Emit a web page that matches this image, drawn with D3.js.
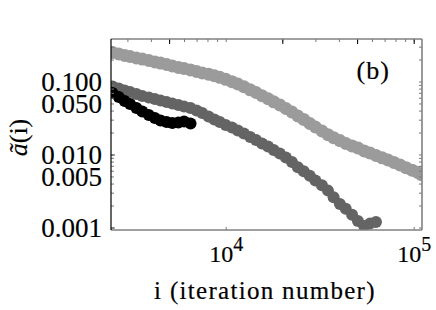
<!DOCTYPE html>
<html><head><meta charset="utf-8">
<script src="https://cdn.jsdelivr.net/npm/d3@7"></script>
<style>body{margin:0;background:#fff}svg{display:block}text{stroke:#000;stroke-width:0.18px}</style>
</head><body><svg id="c" width="436" height="310"></svg>
<script>
// ---- data ----
const iterations = [2350, 2500, 2700, 2900, 3100, 3350, 3600, 3900, 4200, 4500, 4850, 5200, 5600, 6000, 6500, 7000, 7500, 8100, 8700, 9300, 10000, 10800, 11600, 12500, 13500, 14500, 15600, 16800, 18000, 19400, 20900, 22500, 24200, 26000, 28000, 30000, 32500, 35000, 37500, 40500, 43500, 47000, 50500, 54500, 58500, 63000, 68000, 73000, 78500, 84500, 91000, 98000, 105000, 110000];
const lightSeries = [0.258, 0.250, 0.238, 0.227, 0.220, 0.210, 0.203, 0.194, 0.185, 0.179, 0.171, 0.163, 0.156, 0.151, 0.144, 0.137, 0.131, 0.126, 0.120, 0.114, 0.107, 0.0995, 0.0924, 0.0848, 0.0770, 0.0707, 0.0638, 0.0580, 0.0527, 0.0477, 0.0427, 0.0382, 0.0337, 0.0302, 0.0266, 0.0238, 0.0210, 0.0187, 0.0170, 0.0155, 0.0142, 0.0131, 0.0123, 0.0112, 0.0105, 0.0097, 0.0090, 0.0084, 0.0078, 0.0072, 0.0066, 0.0061, 0.0057, 0.0053];
const darkSeries = [0.0882, 0.0854, 0.0802, 0.0753, 0.0718, 0.0674, 0.0633, 0.0604, 0.0576, 0.0549, 0.0524, 0.0499, 0.0477, 0.0455, 0.0434, 0.0401, 0.0370, 0.0332, 0.0302, 0.0279, 0.0254, 0.0234, 0.0213, 0.0194, 0.0174, 0.0158, 0.0142, 0.0129, 0.0115, 0.0103, 0.0091, 0.0079, 0.0067, 0.0059, 0.0051, 0.0044, 0.0038, 0.0032, 0.0026, 0.0021, 0.0018, 0.0015, 0.00123, 0.00105, 0.00113, 0.00119];
const blackSeries = [0.0741, 0.0696, 0.0613, 0.0541, 0.0492, 0.0434, 0.0388, 0.0348, 0.0316, 0.0292, 0.0279, 0.0270, 0.0274, 0.0283, 0.0266];
const seriesColors = ["#9b9b9b", "#646464", "#000000"];
const xTickValues = [1e4, 1e5];
const yTickValues = [0.1, 0.05, 0.01, 0.005, 0.001];
const yTickLabels = ["0.100", "0.050", "0.010", "0.005", "0.001"];
const xTitle = "i (iteration number)";
const panelLabel = "(b)";

// ---- layout ----
const L = 111, R = 422, T = 39, B = 230;
const serif = "'Liberation Serif','Times New Roman',Times,serif";
const svg = d3.select("#c");

const x = d3.scaleLog().domain([2454, 110700]).range([L, R]);
const y = d3.scaleLog().domain([0.000924, 0.3822]).range([B, T]);

svg.append("defs").append("clipPath").attr("id", "clip")
  .append("rect").attr("x", L).attr("y", T).attr("width", R - L).attr("height", B - T);

// data
const plot = svg.append("g").attr("clip-path", "url(#clip)");
[lightSeries, darkSeries, blackSeries].forEach((s, k) => {
  plot.append("g").selectAll("circle").data(s).join("circle")
    .attr("cx", (d, i) => x(iterations[i]))
    .attr("cy", d => y(d))
    .attr("r", k === 0 ? 6.5 : 6)
    .attr("fill", seriesColors[k]);
});

// minor tick values
const yMinor = [];
[0.001, 0.01, 0.1].forEach(b => { for (let m = 1; m <= 9; m++) { const v = b * m; if (v > 0.000924 && v < 0.3822) yMinor.push(v); } });
const xMinor = [];
[1000, 10000, 100000].forEach(b => { for (let m = 1; m <= 9; m++) { const v = b * m; if (v > 2454 && v < 110700) xMinor.push(v); } });
const xTopMajor = [5000, 20000, 50000, 100000];

function tickAxis(axis, tx, ty, color, w) {
  const g = svg.append("g").attr("transform", `translate(${tx},${ty})`).call(axis);
  g.select(".domain").remove();
  g.selectAll(".tick text").remove();
  g.selectAll(".tick line").attr("stroke", color).attr("stroke-width", w);
  return g;
}
// left & right minor ticks (inward)
tickAxis(d3.axisLeft(y).tickValues(yMinor).tickSizeInner(-3).tickSizeOuter(0), L, 0, "#777", 1);
tickAxis(d3.axisRight(y).tickValues(yMinor).tickSizeInner(-3).tickSizeOuter(0), R, 0, "#777", 1);
tickAxis(d3.axisLeft(y).tickValues([0.001, 0.01, 0.1]).tickSizeInner(-4).tickSizeOuter(0), L, 0, "#555", 1);
// top ticks
tickAxis(d3.axisTop(x).tickValues(xMinor).tickSizeInner(-3).tickSizeOuter(0), 0, T, "#777", 1);
tickAxis(d3.axisTop(x).tickValues(xTopMajor).tickSizeInner(-5).tickSizeOuter(0), 0, T, "#000", 1);
// bottom ticks
tickAxis(d3.axisBottom(x).tickValues(xTickValues).tickSizeInner(-3).tickSizeOuter(0), 0, B, "#777", 1);

// frame
svg.append("line").attr("x1", L).attr("x2", R).attr("y1", T).attr("y2", T).attr("stroke", "#808080").attr("stroke-width", 1.6);
svg.append("line").attr("x1", L).attr("x2", R).attr("y1", B).attr("y2", B).attr("stroke", "#808080").attr("stroke-width", 1.6);
svg.append("line").attr("x1", R).attr("x2", R).attr("y1", T).attr("y2", B).attr("stroke", "#808080").attr("stroke-width", 1.6);
svg.append("line").attr("x1", L).attr("x2", L).attr("y1", T).attr("y2", B).attr("stroke", "#000").attr("stroke-width", 1.2);

// y tick labels
const gy = svg.append("g").attr("transform", `translate(${L},0)`)
  .call(d3.axisLeft(y).tickValues(yTickValues).tickFormat((d, i) => yTickLabels[i]).tickSize(0));
gy.select(".domain").remove();
gy.selectAll(".tick line").remove();
gy.selectAll(".tick text").attr("x", -9).attr("dy", "0.32em")
  .attr("font-family", serif).attr("font-size", 27).attr("fill", "#000");

// x tick labels with superscripts
const gx = svg.append("g").attr("transform", `translate(0,${B})`)
  .call(d3.axisBottom(x).tickValues(xTickValues).tickFormat(() => "").tickSize(0));
gx.select(".domain").remove();
gx.selectAll(".tick line").remove();
gx.selectAll(".tick text").attr("y", 31.5).attr("dy", null)
  .attr("font-family", serif).attr("font-size", 24).attr("fill", "#000")
  .each(function (d) {
    const t = d3.select(this);
    t.append("tspan").text("10");
    t.append("tspan").attr("dy", -11).attr("font-size", 20).text(Math.round(Math.log10(d)));
  });

// axis titles
svg.append("text").attr("x", 265).attr("y", 298.5).attr("text-anchor", "middle")
  .attr("font-family", serif).attr("font-size", 25).attr("letter-spacing", "1.3px").text(xTitle);

const yt = svg.append("text").attr("transform", "translate(27,137.5) rotate(-90)")
  .attr("text-anchor", "middle").attr("font-family", serif).attr("font-size", 26);
yt.append("tspan").attr("font-style", "italic").text("ã");
yt.append("tspan").text("(i)");

svg.append("text").attr("x", 356.5).attr("y", 79).attr("font-family", serif)
  .attr("font-size", 26).attr("letter-spacing", "1px").text(panelLabel);
</script>
</body></html>
